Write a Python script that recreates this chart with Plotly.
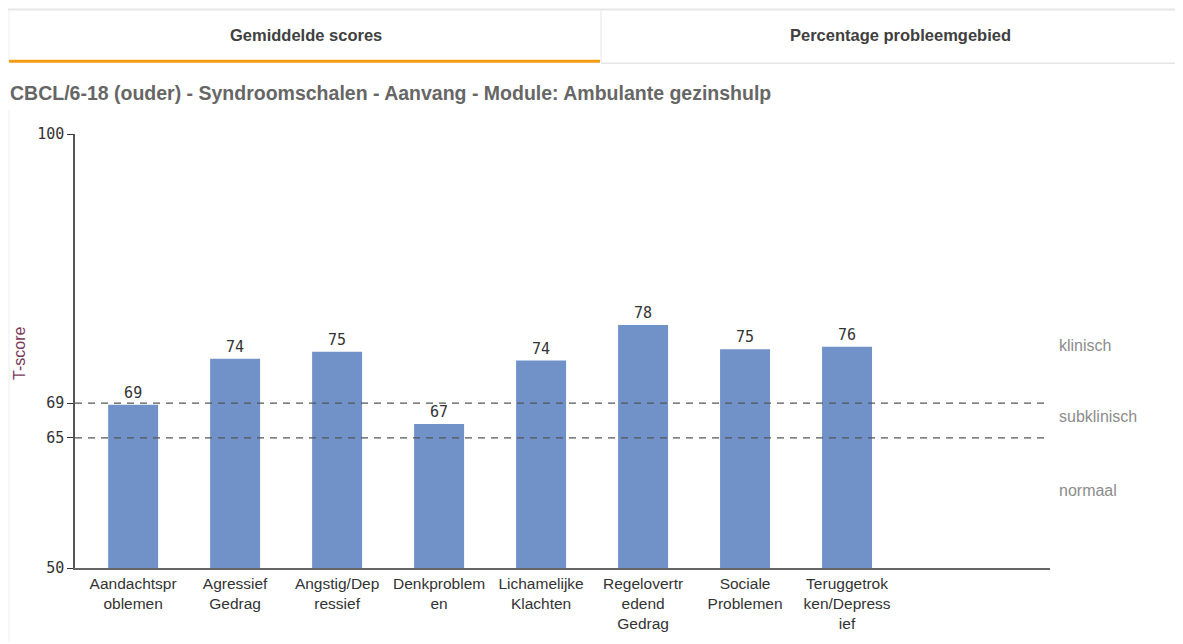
import plotly.graph_objects as go

# data
categories = ['Aandachtspr<br>oblemen', 'Agressief<br>Gedrag', 'Angstig/Dep<br>ressief',
              'Denkproblem<br>en', 'Lichamelijke<br>Klachten', 'Regelovertr<br>edend<br>Gedrag',
              'Sociale<br>Problemen', 'Teruggetrok<br>ken/Depress<br>ief']
scores = [68.8, 74.1, 74.9, 66.6, 73.9, 78.0, 75.2, 75.5]
score_labels = ['69', '74', '75', '67', '74', '78', '75', '76']
thresholds = [65, 69]
zone_names = ['klinisch', 'subklinisch', 'normaal']
zone_y = [75.6, 67.4, 58.9]
y_ticks = [50, 65, 69, 100]

# page offset of the plot div (body margin)
O = 8
W, H = 1183 - O, 644 - O
# plot area in page pixels
L, R, T, B = 75, 1050, 134, 570


def px(x):
    return (x - L) / (R - L)


def py(y):
    return (B - y) / (B - T)


NARROW = 'Liberation Sans Narrow, Arial Narrow, sans-serif'
SANS = 'Liberation Sans, Arial, sans-serif'
MONO = 'DejaVu Sans Mono, monospace'

fig = go.Figure()
fig.add_trace(go.Bar(x=list(range(len(categories))), y=scores, width=0.49,
                     marker=dict(color='#7092c8', line=dict(width=0)),
                     text=score_labels, textposition='outside', cliponaxis=False,
                     textfont=dict(family=MONO, size=15, color='#333333'),
                     hoverinfo='skip'))

shapes = []
for t in thresholds:
    shapes.append(dict(type='line', xref='paper', yref='y', x0=0, x1=1, y0=t, y1=t,
                       line=dict(color='#555555', width=1.3, dash='7px,6px')))

# tab strip
shapes.append(dict(type='line', xref='paper', yref='paper', x0=px(O), x1=px(1183), y0=py(9), y1=py(9),
                   line=dict(color='#e6e6e6', width=2)))
shapes.append(dict(type='line', xref='paper', yref='paper', x0=px(9), x1=px(9), y0=py(10), y1=py(62),
                   line=dict(color='#eeeeee', width=1)))
shapes.append(dict(type='line', xref='paper', yref='paper', x0=px(601), x1=px(601), y0=py(10), y1=py(62),
                   line=dict(color='#e6e6e6', width=1)))
shapes.append(dict(type='line', xref='paper', yref='paper', x0=px(601), x1=px(1183), y0=py(63), y1=py(63),
                   line=dict(color='#e6e6e6', width=1.5)))
shapes.append(dict(type='line', xref='paper', yref='paper', x0=px(9), x1=px(600), y0=py(61), y1=py(61),
                   line=dict(color='#f39c12', width=3)))
shapes.append(dict(type='line', xref='paper', yref='paper', x0=px(9), x1=px(9), y0=py(110), y1=py(644),
                   line=dict(color='#eeeeee', width=1)))

annotations = [
    dict(text='<b>Gemiddelde scores</b>', xref='paper', yref='paper', x=px(306), y=py(35),
         xanchor='center', yanchor='middle', showarrow=False,
         font=dict(family=NARROW, size=16.5, color='#404040')),
    dict(text='<b>Percentage probleemgebied</b>', xref='paper', yref='paper', x=px(900), y=py(35),
         xanchor='center', yanchor='middle', showarrow=False,
         font=dict(family=NARROW, size=16.5, color='#404040')),
    dict(text='<b>CBCL/6-18 (ouder) - Syndroomschalen - Aanvang - Module: Ambulante gezinshulp</b>',
         xref='paper', yref='paper', x=px(O), y=py(93), xanchor='left', yanchor='middle', showarrow=False,
         font=dict(family=NARROW, size=19.5, color='#666666')),
    dict(text='T-score', xref='paper', yref='paper', x=px(20), y=py(355), textangle=-90,
         xanchor='center', yanchor='middle', showarrow=False,
         font=dict(family=SANS, size=16, color='#7a3a5a')),
]
for name, zy in zip(zone_names, zone_y):
    annotations.append(dict(text=name, xref='paper', yref='y', x=px(1057), y=zy,
                            xanchor='left', yanchor='middle', showarrow=False,
                            font=dict(family=SANS, size=16, color='#8c8c8c')))

fig.update_layout(
    width=W, height=H, autosize=False,
    margin=dict(l=L - O, r=W - (R - O), t=T - O, b=H - (B - O), pad=0),
    paper_bgcolor='white', plot_bgcolor='white',
    showlegend=False,
    shapes=shapes, annotations=annotations,
    xaxis=dict(range=[-0.57, 8.99], tickvals=list(range(len(categories))), ticktext=categories,
               showgrid=False, zeroline=False, showline=True, linecolor='#666666', linewidth=2,
               ticks='', tickfont=dict(family=SANS, size=15.5, color='#333333')),
    yaxis=dict(range=[50, 100], tickvals=y_ticks, showgrid=False, zeroline=False,
               showline=True, linecolor='#555555', linewidth=1.5, ticks='outside', ticklen=6,
               tickcolor='#333333',
               tickfont=dict(family=MONO, size=15, color='#333333')),
)

fig.write_html("out.html")
